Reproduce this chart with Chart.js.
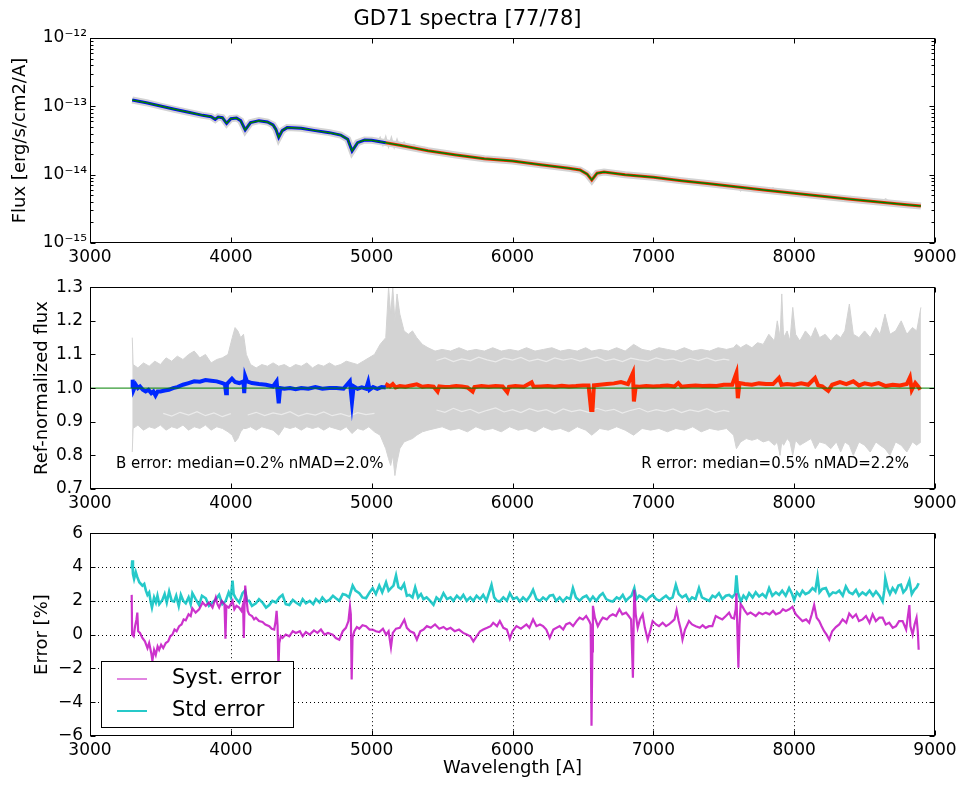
<!DOCTYPE html>
<html>
<head>
<meta charset="utf-8">
<title>GD71 spectra [77/78]</title>
<script src="https://cdn.jsdelivr.net/npm/chart.js@4.4.1/dist/chart.umd.min.js"></script>
<style>
  body { margin: 0; background: #fff; }
  canvas { position: absolute; left: 0; }
  #fluxChart { top: 0; }
  #ratioChart { top: 270px; }
  #errorChart { top: 516px; }
</style>
</head>
<body>
<canvas id="fluxChart" width="963" height="270"></canvas>
<canvas id="ratioChart" width="963" height="246"></canvas>
<canvas id="errorChart" width="963" height="269"></canvas>
<script>
// tick values / labels
const waveTicks = [3000, 4000, 5000, 6000, 7000, 8000, 9000];
const waveTickLabels = ['3000', '4000', '5000', '6000', '7000', '8000', '9000'];
const fluxTicks = [1e-15, 1e-14, 1e-13, 1e-12];
const fluxTickLabels = ['10⁻¹⁵', '10⁻¹⁴', '10⁻¹³', '10⁻¹²'];
const ratioTicks = [0.7, 0.8, 0.9, 1.0, 1.1, 1.2, 1.3];
const ratioTickLabels = ['0.7', '0.8', '0.9', '1.0', '1.1', '1.2', '1.3'];
const errTicks = [-6, -4, -2, 0, 2, 4, 6];
const errTickLabels = ['−6', '−4', '−2', '0', '2', '4', '6'];

// top panel: model spectrum (green), observed B/R split at 5100 A
const splitWave = 5100;
const modelWave = [3300, 3400, 3500, 3600, 3700, 3800, 3860, 3889, 3910, 3940,
  3970, 4000, 4040, 4070, 4102, 4140, 4200, 4260, 4300, 4320,
  4340, 4365, 4400, 4500, 4600, 4700, 4780, 4830, 4861, 4900,
  4950, 5000, 5100, 5200, 5400, 5600, 5800, 6000, 6200, 6400,
  6480, 6530, 6563, 6600, 6650, 6800, 7000, 7200, 7400, 7600,
  7800, 8000, 8200, 8400, 8600, 8800, 8900];
const modelFlux = [1.24e-13, 1.13e-13, 1.01e-13, 9.04e-14, 8.17e-14, 7.38e-14, 7.06e-14, 6.45e-14, 6.98e-14, 6.82e-14,
  5.64e-14, 6.6e-14, 6.75e-14, 6.17e-14, 4.51e-14, 5.77e-14, 6.17e-14, 5.9e-14, 5.33e-14, 4.61e-14,
  3.52e-14, 4.41e-14, 4.88e-14, 4.77e-14, 4.41e-14, 4.12e-14, 3.8e-14, 3.29e-14, 2.22e-14, 2.94e-14,
  3.21e-14, 3.18e-14, 2.94e-14, 2.69e-14, 2.24e-14, 1.94e-14, 1.71e-14, 1.58e-14, 1.4e-14, 1.24e-14,
  1.17e-14, 1.02e-14, 8.36e-15, 1.05e-14, 1.09e-14, 1.0e-14, 9.14e-15, 8.17e-15, 7.38e-15, 6.6e-15,
  5.9e-15, 5.33e-15, 4.82e-15, 4.36e-15, 3.98e-15, 3.64e-15, 3.48e-15];
const specNoiseWave = [5040, 5060, 5080, 5100, 5120, 5140, 5160, 5180, 5200, 5230,
  5260, 5300, 5340, 5380, 6000, 7600, 7620, 7650, 7700, 7750,
  7800, 7850, 7900, 7950, 8000, 8100, 8150, 8200, 8300, 8400,
  8450, 8500, 8600, 8650, 8700, 8800, 8850, 8900];
const specNoiseFlux = [3.05e-14, 3.5e-14, 2.7e-14, 3.6e-14, 2.55e-14, 3.5e-14, 2.5e-14, 3.3e-14, 2.5e-14, 3.0e-14,
  2.45e-14, 2.75e-14, 2.4e-14, 2.5e-14, null, 6.6e-15, 5.8e-15, 6.9e-15, 6.0e-15, 6.5e-15,
  5.5e-15, 6.4e-15, 5.3e-15, 5.9e-15, 5.0e-15, 5.5e-15, 4.7e-15, 5.2e-15, 4.4e-15, 4.8e-15,
  4.1e-15, 4.5e-15, 3.8e-15, 4.4e-15, 3.6e-15, 3.9e-15, 3.4e-15, 3.6e-15];

// middle panel: spread of all spectra (grey) and mean ratios
const bandWave = [3300, 3306, 3340, 3380, 3420, 3460, 3500, 3540, 3580, 3620,
  3660, 3700, 3740, 3780, 3820, 3860, 3900, 3940, 3980, 4010,
  4030, 4050, 4070, 4090, 4110, 4140, 4180, 4220, 4260, 4300,
  4340, 4380, 4420, 4460, 4500, 4540, 4580, 4620, 4660, 4700,
  4740, 4780, 4820, 4860, 4900, 4940, 4980, 5020, 5060, 5100,
  5120, 5135, 5150, 5165, 5180, 5200, 5230, 5260, 5290, 5320,
  5360, 5400, 5450, 5500, 5560, 5620, 5680, 5740, 5800, 5860,
  5920, 5980, 6040, 6100, 6160, 6220, 6280, 6340, 6400, 6460,
  6520, 6563, 6620, 6680, 6740, 6800, 6860, 6920, 6980, 7040,
  7100, 7160, 7220, 7280, 7340, 7400, 7460, 7520, 7570, 7590,
  7620, 7660, 7700, 7740, 7780, 7820, 7860, 7880, 7900, 7912,
  7925, 7950, 7970, 7990, 8010, 8040, 8080, 8120, 8150, 8180,
  8220, 8260, 8300, 8330, 8360, 8392, 8420, 8460, 8500, 8540,
  8580, 8610, 8645, 8680, 8720, 8760, 8800, 8840, 8870, 8900];
const bandHigh = [1.15, 1.07, 1.06, 1.075, 1.065, 1.08, 1.07, 1.09, 1.08, 1.095,
  1.085, 1.10, 1.11, 1.09, 1.10, 1.075, 1.085, 1.09, 1.10, 1.15,
  1.18, 1.17, 1.15, 1.16, 1.10, 1.07, 1.06, 1.07, 1.065, 1.075,
  1.065, 1.07, 1.06, 1.07, 1.065, 1.075, 1.06, 1.07, 1.065, 1.075,
  1.065, 1.07, 1.08, 1.075, 1.07, 1.08, 1.09, 1.10, 1.13, 1.15,
  1.30, 1.22, 1.30, 1.20, 1.28, 1.22, 1.17, 1.16, 1.17, 1.15,
  1.13, 1.12, 1.11, 1.115, 1.11, 1.12, 1.11, 1.115, 1.11, 1.12,
  1.11, 1.115, 1.11, 1.12, 1.11, 1.115, 1.12, 1.11, 1.115, 1.11,
  1.12, 1.11, 1.115, 1.11, 1.12, 1.11, 1.13, 1.115, 1.11, 1.12,
  1.115, 1.11, 1.12, 1.11, 1.115, 1.11, 1.12, 1.115, 1.12, 1.13,
  1.12, 1.13, 1.12, 1.135, 1.13, 1.16, 1.14, 1.20, 1.15, 1.28,
  1.15, 1.17, 1.14, 1.24, 1.16, 1.14, 1.17, 1.15, 1.18, 1.15,
  1.16, 1.14, 1.16, 1.15, 1.17, 1.25, 1.16, 1.15, 1.17, 1.15,
  1.18, 1.16, 1.22, 1.16, 1.17, 1.20, 1.16, 1.18, 1.17, 1.24];
const bandLow = [0.81, 0.88, 0.89, 0.875, 0.885, 0.88, 0.89, 0.875, 0.885, 0.88,
  0.89, 0.875, 0.885, 0.88, 0.89, 0.875, 0.885, 0.88, 0.87, 0.86,
  0.84, 0.85, 0.87, 0.88, 0.88, 0.885, 0.875, 0.885, 0.88, 0.875,
  0.86, 0.885, 0.88, 0.885, 0.875, 0.885, 0.88, 0.885, 0.875, 0.885,
  0.88, 0.875, 0.885, 0.865, 0.88, 0.875, 0.885, 0.87, 0.86, 0.82,
  0.79, 0.77, 0.80, 0.74, 0.78, 0.82, 0.84, 0.845, 0.85, 0.86,
  0.87, 0.875, 0.88, 0.885, 0.875, 0.88, 0.87, 0.885, 0.875, 0.88,
  0.87, 0.885, 0.875, 0.88, 0.87, 0.885, 0.875, 0.88, 0.87, 0.885,
  0.875, 0.86, 0.88, 0.875, 0.885, 0.875, 0.86, 0.88, 0.875, 0.88,
  0.87, 0.88, 0.875, 0.885, 0.87, 0.88, 0.875, 0.88, 0.86, 0.82,
  0.84, 0.85, 0.845, 0.85, 0.84, 0.845, 0.83, 0.84, 0.80, 0.84,
  0.83, 0.85, 0.84, 0.80, 0.845, 0.83, 0.84, 0.85, 0.82, 0.84,
  0.835, 0.82, 0.84, 0.81, 0.84, 0.83, 0.80, 0.84, 0.83, 0.81,
  0.84, 0.83, 0.82, 0.80, 0.84, 0.83, 0.81, 0.84, 0.83, 0.84];
// faint gaps between the individual grey spectra
const gapLowWave = [3520, 3580, 3640, 3700, 3760, 3820, 3880, 3940, 4000, 4060,
  4120, 4180, 4240, 4300, 4360, 4420, 4480, 4540, 4600, 4660,
  4720, 4780, 4840, 4900, 4960, 5020, 5080, 5460, 5520, 5580,
  5640, 5700, 5760, 5820, 5880, 5940, 6000, 6060, 6120, 6180,
  6240, 6300, 6360, 6420, 6480, 6540, 6600, 6660, 6720, 6780,
  6840, 6900, 6960, 7020, 7080, 7140, 7200, 7260, 7320, 7380,
  7440, 7500, 7540];
const gapLow = [0.925, 0.917, 0.928, 0.92, 0.93, 0.918, 0.926, 0.915, 0.924, null,
  0.92, 0.928, 0.918, 0.926, 0.921, 0.93, 0.917, 0.925, 0.92, 0.929,
  0.918, 0.924, 0.916, 0.927, 0.921, 0.925, null, 0.935, 0.928, 0.94,
  0.93, 0.937, 0.926, 0.934, 0.941, 0.929, 0.936, 0.927, 0.939, 0.931,
  0.936, 0.925, 0.938, 0.93, 0.935, 0.928, 0.94, 0.932, 0.937, 0.926,
  0.934, 0.94, 0.929, 0.936, 0.931, 0.938, 0.927, 0.935, 0.93, 0.939,
  0.928, 0.934, 0.93];
const gapHighWave = [5460, 5520, 5580, 5640, 5700, 5760, 5820, 5880, 5940, 6000,
  6060, 6120, 6180, 6240, 6300, 6360, 6420, 6480, 6540, 6600,
  6660, 6720, 6780, 6840, 6900, 6960, 7020, 7080, 7140, 7200,
  7260, 7320, 7380, 7440, 7500, 7540];
const gapHigh = [1.082, 1.09, 1.079, 1.087, 1.081, 1.092, 1.084, 1.078, 1.089, 1.083,
  1.091, 1.08, 1.086, 1.079, 1.09, 1.083, 1.088, 1.08, 1.086, 1.092,
  1.081, 1.087, 1.079, 1.089, 1.084, 1.08, 1.09, 1.083, 1.087, 1.079,
  1.088, 1.082, 1.09, 1.081, 1.086, 1.083];
const refWave = [3000, 9000];
const refLevel = [1.0, 1.0];
const ratioBWave = [3300, 3303, 3310, 3325, 3340, 3355, 3375, 3395, 3415, 3435,
  3450, 3465, 3480, 3500, 3530, 3560, 3590, 3620, 3660, 3700,
  3740, 3780, 3820, 3860, 3900, 3940, 3958, 3966, 3972, 3990,
  4008, 4030, 4060, 4090, 4095, 4102, 4115, 4150, 4200, 4250,
  4300, 4325, 4340, 4350, 4380, 4420, 4460, 4500, 4550, 4600,
  4650, 4700, 4750, 4800, 4845, 4860, 4872, 4900, 4930, 4960,
  4975, 4985, 5010, 5040, 5070, 5100];
const ratioB = [1.00, 1.025, 0.995, 1.01, 1.00, 1.005, 0.995, 0.99, 0.995, 0.985,
  0.99, 0.978, 0.99, 0.99, 0.993, 0.995, 1.00, 1.003, 1.01, 1.015,
  1.02, 1.019, 1.024, 1.022, 1.02, 1.015, 1.012, 0.985, 1.012, 1.02,
  1.028, 1.018, 1.015, 1.02, 0.985, 1.035, 1.02, 1.015, 1.012, 1.01,
  1.005, 1.02, 0.955, 1.00, 0.998, 1.00, 0.997, 1.00, 0.998, 1.003,
  0.998, 1.00, 1.00, 0.998, 1.02, 0.958, 1.005, 0.998, 1.002, 0.998,
  1.018, 0.995, 1.003, 0.998, 1.003, 1.002];
const ratioRWave = [5100, 5110, 5130, 5150, 5170, 5200, 5240, 5280, 5320, 5360,
  5400, 5440, 5468, 5480, 5520, 5560, 5600, 5640, 5680, 5717,
  5730, 5780, 5830, 5880, 5930, 5963, 5975, 6020, 6080, 6136,
  6150, 6200, 6250, 6300, 6350, 6400, 6450, 6500, 6540, 6558,
  6568, 6578, 6620, 6670, 6720, 6770, 6820, 6855, 6862, 6875,
  6900, 6950, 7000, 7050, 7100, 7150, 7177, 7200, 7250, 7300,
  7350, 7400, 7450, 7500, 7560, 7590, 7600, 7612, 7650, 7700,
  7750, 7800, 7850, 7892, 7910, 7950, 8000, 8050, 8100, 8148,
  8170, 8200, 8242, 8270, 8325, 8370, 8420, 8460, 8500, 8550,
  8600, 8650, 8700, 8750, 8800, 8822, 8835, 8860, 8880, 8895];
const ratioR = [1.002, 1.01, 1.005, 1.012, 1.002, 1.006, 1.004, 1.008, 1.011, 1.004,
  1.006, 1.004, 0.99, 1.005, 1.003, 1.004, 1.006, 1.005, 1.002, 0.99,
  1.003, 1.006, 1.004, 1.006, 1.005, 0.988, 1.004, 1.006, 1.004, 1.017,
  1.004, 1.005, 1.006, 1.004, 1.007, 1.005, 1.006, 1.008, 1.008, 0.935,
  0.935, 1.008, 1.01, 1.012, 1.014, 1.018, 1.012, 1.045, 0.96, 1.005,
  1.004, 1.006, 1.005, 1.006, 1.008, 1.005, 1.015, 1.004, 1.006, 1.008,
  1.006, 1.007, 1.006, 1.01, 1.01, 1.045, 0.97, 1.015, 1.012, 1.01,
  1.014, 1.012, 1.012, 1.03, 1.01, 1.012, 1.01, 1.014, 1.01, 1.03,
  1.008, 1.005, 0.992, 1.01, 1.018, 1.012, 1.02, 1.008, 1.014, 1.01,
  1.015, 1.006, 1.01, 1.008, 1.012, 1.032, 0.995, 1.015, 1.005, 0.995];

// bottom panel: errors in percent
const systWave = [3296, 3299, 3310, 3320, 3330, 3336, 3342, 3355, 3372, 3390,
  3408, 3420, 3435, 3443, 3455, 3467, 3480, 3491, 3505, 3520,
  3538, 3555, 3570, 3585, 3600, 3615, 3633, 3650, 3665, 3680,
  3700, 3715, 3727, 3750, 3775, 3800, 3822, 3845, 3870, 3893,
  3905, 3917, 3935, 3955, 3962, 3968, 3985, 4000, 4012, 4025,
  4040, 4059, 4075, 4087, 4092, 4097, 4102, 4110, 4120, 4130,
  4150, 4165, 4178, 4200, 4225, 4245, 4273, 4290, 4308, 4318,
  4325, 4332, 4338, 4344, 4355, 4367, 4390, 4415, 4440, 4462,
  4490, 4510, 4533, 4560, 4590, 4615, 4640, 4665, 4690, 4723,
  4745, 4770, 4795, 4817, 4835, 4846, 4852, 4858, 4864, 4877,
  4895, 4912, 4935, 4960, 4985, 5007, 5030, 5054, 5080, 5102,
  5120, 5137, 5150, 5173, 5200, 5232, 5250, 5274, 5300, 5321,
  5345, 5368, 5392, 5420, 5450, 5480, 5510, 5533, 5560, 5590,
  5620, 5650, 5675, 5700, 5722, 5745, 5770, 5792, 5820, 5845,
  5863, 5890, 5910, 5935, 5960, 5981, 6000, 6028, 6060, 6099,
  6120, 6146, 6170, 6195, 6217, 6240, 6264, 6290, 6335, 6360,
  6380, 6406, 6430, 6455, 6476, 6500, 6523, 6545, 6555, 6561,
  6567, 6571, 6585, 6606, 6625, 6641, 6670, 6690, 6712, 6735,
  6759, 6780, 6806, 6825, 6842, 6855, 6860, 6865, 6875, 6889,
  6905, 6924, 6940, 6960, 6980, 6995, 7020, 7040, 7066, 7090,
  7110, 7137, 7150, 7165, 7180, 7195, 7207, 7225, 7253, 7275,
  7301, 7330, 7350, 7372, 7395, 7419, 7443, 7465, 7490, 7515,
  7538, 7555, 7573, 7585, 7590, 7596, 7604, 7612, 7620, 7633,
  7650, 7668, 7690, 7710, 7727, 7750, 7775, 7799, 7825, 7850,
  7870, 7900, 7920, 7941, 7965, 7988, 8000, 8012, 8035, 8059,
  8085, 8107, 8125, 8142, 8160, 8178, 8195, 8213, 8230, 8249,
  8270, 8296, 8320, 8344, 8370, 8391, 8415, 8439, 8460, 8486,
  8510, 8535, 8557, 8580, 8605, 8628, 8650, 8675, 8700, 8723,
  8745, 8770, 8795, 8818, 8825, 8841, 8855, 8869, 8878, 8884];
const systErr = [2.35, 0.0, -0.1, 0.5, 0.9, 1.3, 0.2, 0.1, -0.2, -0.4,
  -0.8, -0.5, -1.1, -1.55, -0.9, -1.2, -0.7, -0.9, -0.6, -0.8,
  -0.5, -0.4, -0.1, 0.0, 0.3, 0.2, 0.5, 0.6, 0.9, 0.85,
  1.2, 1.1, 1.55, 1.3, 1.5, 1.9, 1.7, 1.9, 1.6, 2.2,
  1.8, 1.6, 2.0, 1.8, -0.25, 1.7, 1.6, 1.8, 2.0, 1.5,
  1.7, 1.6, 1.4, 1.8, -0.2, 1.6, 2.9, 2.2, 1.4, 1.2,
  1.1, 0.9, 1.0, 0.8, 0.75, 0.6, 0.5, 0.35, 0.3, 0.8,
  1.4, 0.5, -2.0, -0.5, -0.1, -0.2, 0.0, -0.1, 0.2, 0.1,
  0.2, -0.1, 0.15, 0.0, 0.25, 0.1, 0.3, 0.0, 0.1, 0.0,
  -0.2, -0.3, 0.2, 0.4, 0.8, 1.65, 1.2, -2.65, -0.2, 0.2,
  0.45, 0.35, 0.55, 0.5, 0.3, 0.3, 0.2, 0.15, 0.35, 0.0,
  0.2, -0.75, 0.1, 0.35, 0.4, 0.88, 0.4, 0.2, 0.1, -0.3,
  0.2, 0.3, 0.5, 0.4, 0.6, 0.35, 0.45, 0.3, 0.4, 0.2,
  0.3, 0.1, 0.0, -0.1, -0.4, -0.1, 0.2, 0.3, 0.4, 0.5,
  0.7, 0.5, 0.8, 0.4, 0.3, -0.25, 0.2, 0.5, 0.35, 0.6,
  0.4, 0.9, 0.5, 0.6, 0.5, 0.3, -0.2, 0.3, 0.5, 0.3,
  0.6, 0.7, 0.5, 0.8, 1.0, 0.9, 1.1, 0.8, 0.6, -5.4,
  -1.0, 1.7, 1.0, 0.5, 0.8, 1.0, 0.9, 1.1, 1.2, 1.1,
  1.5, 1.2, 1.3, 1.1, 0.9, -2.55, 0.5, 2.65, 1.2, 0.4,
  0.9, 1.2, 0.4, -0.3, 0.3, 0.8, 0.6, 0.5, 0.7, 0.5,
  0.6, 0.8, 0.9, 1.45, 0.8, 0.3, -0.3, 0.3, 0.8, 0.6,
  0.5, 0.4, 0.55, 0.4, 0.5, 0.5, 1.1, 1.0, 0.9, 1.1,
  1.3, 1.0, 0.95, 1.5, 2.45, 0.5, -1.96, 0.6, 1.8, 1.65,
  1.4, 1.2, 1.3, 1.2, 1.1, 1.3, 1.2, 1.3, 1.2, 1.4,
  1.2, 1.3, 1.5, 1.4, 1.5, 1.65, 1.4, 1.2, 1.0, 0.8,
  0.9, 0.7, 1.2, 1.75, 1.0, 0.8, 0.5, 0.2, 0.0, -0.3,
  0.2, 0.45, 0.6, 0.9, 0.7, 1.25, 1.0, 1.2, 0.8, 0.9,
  1.1, 0.7, 1.2, 0.8, 1.0, 1.0, 0.6, 0.7, 0.4, 0.5,
  0.8, 0.8, 0.3, 1.75, 0.5, 0.0, 0.6, 1.0, 0.2, -0.9];
const stdWave = [3296, 3300, 3305, 3313, 3325, 3336, 3350, 3372, 3385, 3397,
  3408, 3420, 3431, 3440, 3455, 3468, 3479, 3492, 3514, 3530,
  3545, 3562, 3580, 3597, 3612, 3630, 3645, 3662, 3680, 3700,
  3715, 3727, 3750, 3775, 3795, 3822, 3845, 3870, 3895, 3917,
  3940, 3964, 3985, 4000, 4012, 4020, 4035, 4060, 4083, 4100,
  4115, 4130, 4150, 4178, 4200, 4225, 4250, 4273, 4295, 4320,
  4345, 4367, 4390, 4415, 4440, 4462, 4490, 4510, 4533, 4560,
  4585, 4604, 4630, 4650, 4675, 4700, 4725, 4746, 4770, 4795,
  4817, 4840, 4865, 4885, 4912, 4935, 4960, 4985, 5007, 5030,
  5054, 5075, 5102, 5120, 5137, 5155, 5173, 5190, 5209, 5230,
  5250, 5268, 5290, 5309, 5330, 5350, 5368, 5390, 5415, 5439,
  5460, 5485, 5510, 5535, 5560, 5580, 5605, 5630, 5651, 5675,
  5700, 5722, 5745, 5770, 5792, 5815, 5851, 5870, 5890, 5910,
  5935, 5960, 5981, 6005, 6030, 6052, 6075, 6100, 6125, 6146,
  6170, 6195, 6217, 6240, 6264, 6288, 6310, 6335, 6359, 6385,
  6410, 6429, 6450, 6476, 6500, 6525, 6550, 6571, 6595, 6620,
  6641, 6665, 6690, 6712, 6740, 6760, 6783, 6805, 6830, 6845,
  6865, 6880, 6900, 6924, 6950, 6970, 6995, 7020, 7045, 7066,
  7090, 7115, 7137, 7160, 7180, 7205, 7231, 7253, 7275, 7300,
  7324, 7345, 7370, 7396, 7420, 7440, 7466, 7490, 7515, 7538,
  7560, 7580, 7590, 7600, 7621, 7640, 7660, 7680, 7705, 7727,
  7751, 7775, 7799, 7822, 7845, 7870, 7893, 7915, 7940, 7964,
  7985, 8000, 8020, 8040, 8059, 8080, 8105, 8130, 8150, 8166,
  8180, 8200, 8225, 8250, 8275, 8296, 8320, 8345, 8367, 8390,
  8415, 8439, 8460, 8485, 8510, 8535, 8560, 8581, 8605, 8628,
  8640, 8647, 8665, 8680, 8699, 8720, 8740, 8758, 8775, 8795,
  8818, 8835, 8853, 8870, 8884];
const stdErr = [3.9, 4.4, 3.6, 3.3, 3.7, 3.4, 3.1, 2.9, 3.0, 2.6,
  2.35, 2.5, 1.95, 1.6, 2.2, 1.9, 2.3, 1.8, 2.05, 2.4,
  1.9, 2.55, 2.0, 1.95, 2.3, 1.7, 2.35, 2.0, 1.85, 2.2,
  1.8, 2.45, 2.1, 1.75, 2.3, 2.15, 1.7, 1.9, 2.1, 2.35,
  1.8, 2.0, 2.5, 2.2, 3.2, 2.4, 2.15, 1.9, 2.45, 2.6,
  2.0, 2.0, 1.7, 1.85, 2.1, 1.9, 1.6, 1.75, 2.0, 1.9,
  2.2, 2.35, 1.8, 1.75, 2.05, 1.9, 1.75, 2.1, 1.85, 2.0,
  1.8, 2.1, 1.9, 2.2, 1.95, 2.05, 2.3, 2.15, 2.0, 2.4,
  2.35, 2.2, 2.9, 2.6, 2.45, 2.2, 2.15, 2.5, 2.75, 2.4,
  2.9, 2.5, 3.1, 2.6, 2.75, 2.9, 3.5, 2.8, 2.7, 3.0,
  2.3, 2.35, 2.2, 2.8, 2.2, 2.4, 2.1, 2.2, 2.0, 1.76,
  2.2, 2.0, 2.45, 2.1, 2.2, 2.0, 2.3, 2.1, 2.35, 2.0,
  2.2, 2.0, 2.3, 2.1, 2.35, 2.0, 2.95, 2.2, 2.0, 1.96,
  2.2, 2.0, 2.45, 2.1, 2.2, 1.96, 2.2, 2.0, 2.3, 2.65,
  2.1, 2.0, 2.2, 2.05, 2.3, 2.35, 2.0, 2.2, 1.96, 2.2,
  2.1, 2.75, 2.2, 2.0, 2.2, 2.3, 2.0, 2.25, 2.0, 2.3,
  2.45, 2.1, 2.0, 1.96, 2.2, 2.1, 2.35, 2.0, 2.2, 2.3,
  2.75, 2.1, 2.3, 2.2, 2.0, 2.2, 2.35, 2.1, 2.0, 2.15,
  2.3, 2.1, 2.2, 2.95, 2.4, 2.2, 2.35, 2.0, 2.2, 2.1,
  2.75, 2.2, 2.1, 2.0, 2.3, 2.2, 2.45, 2.1, 2.3, 2.35,
  2.2, 2.4, 3.5, 2.5, 1.96, 2.3, 2.1, 2.45, 2.2, 2.5,
  2.25, 2.4, 2.2, 2.75, 2.3, 2.5, 2.35, 2.6, 2.3, 2.75,
  2.4, 2.05, 2.5, 2.3, 2.6, 2.4, 2.5, 2.75, 2.6, 3.43,
  2.5, 2.7, 2.75, 2.3, 2.5, 2.45, 2.6, 2.3, 2.85, 2.5,
  2.4, 2.65, 2.3, 2.5, 2.35, 2.6, 2.3, 2.55, 2.3, 1.96,
  2.6, 3.33, 2.7, 2.4, 2.75, 2.5, 2.9, 2.95, 2.5, 2.7,
  3.2, 2.4, 2.65, 2.8, 3.04];

Chart.defaults.font.family = '"DejaVu Sans", "Liberation Sans", sans-serif';
Chart.defaults.color = '#000';

function pairs(xs, ys) {
    return xs.map((x, i) => ({ x: x, y: ys[i] }));
}

// minor ticks for the log axis (2..9 x 10^n)
const fluxMinorTicks = [];
[1e-15, 1e-14, 1e-13].forEach(d => {
    for (let m = 2; m < 10; m++) fluxMinorTicks.push(m * d);
});

// matplotlib-like frame: inward ticks on all sides, optional dotted grid, notes, legend
const axesBox = {
    id: 'axesBox',
    beforeDatasetsDraw(chart, args, opts) {
        if (!opts.dotted) return;
        const { ctx, chartArea: a, scales: { x, y } } = chart;
        ctx.save();
        ctx.strokeStyle = '#000';
        ctx.lineWidth = 1;
        ctx.setLineDash([1, 3]);
        ctx.beginPath();
        x.ticks.forEach(t => {
            const px = Math.round(x.getPixelForValue(t.value)) + 0.5;
            if (px > a.left + 2 && px < a.right - 2) { ctx.moveTo(px, a.top); ctx.lineTo(px, a.bottom); }
        });
        y.ticks.forEach(t => {
            const py = Math.round(y.getPixelForValue(t.value)) + 0.5;
            if (py > a.top + 2 && py < a.bottom - 2) { ctx.moveTo(a.left, py); ctx.lineTo(a.right, py); }
        });
        ctx.stroke();
        ctx.restore();
    },
    afterDatasetsDraw(chart, args, opts) {
        const { ctx, chartArea: a, scales: { x, y } } = chart;
        const L = Math.round(a.left) + 0.5, R = Math.round(a.right) - 0.5;
        const T = Math.round(a.top) + 0.5, B = Math.round(a.bottom) - 0.5;
        ctx.save();
        ctx.strokeStyle = '#000';
        ctx.lineWidth = 1;
        ctx.beginPath();
        x.ticks.forEach(t => {
            const px = Math.round(x.getPixelForValue(t.value)) + 0.5;
            ctx.moveTo(px, B); ctx.lineTo(px, B - 5);
            ctx.moveTo(px, T); ctx.lineTo(px, T + 5);
        });
        y.ticks.forEach(t => {
            const py = Math.round(y.getPixelForValue(t.value)) + 0.5;
            ctx.moveTo(L, py); ctx.lineTo(L + 5, py);
            ctx.moveTo(R, py); ctx.lineTo(R - 5, py);
        });
        (opts.minorY || []).forEach(v => {
            const py = Math.round(y.getPixelForValue(v)) + 0.5;
            ctx.moveTo(L, py); ctx.lineTo(L + 3, py);
            ctx.moveTo(R, py); ctx.lineTo(R - 3, py);
        });
        ctx.stroke();
        ctx.strokeRect(L, T, R - L, B - T);

        ctx.fillStyle = '#000';
        ctx.textBaseline = 'middle';
        ctx.font = '15px "DejaVu Sans"';
        (opts.notes || []).forEach(n => {
            ctx.textAlign = n.align;
            ctx.fillText(n.text, x.getPixelForValue(n.x), y.getPixelForValue(n.y));
        });

        if (opts.legend) {
            const lg = opts.legend;
            const x0 = Math.round(a.left) + lg.left, y0 = Math.round(a.top) + lg.top;
            ctx.fillStyle = '#fff';
            ctx.fillRect(x0, y0, lg.width, lg.height);
            ctx.strokeStyle = '#000';
            ctx.lineWidth = 1;
            ctx.strokeRect(x0 + 0.5, y0 + 0.5, lg.width, lg.height);
            ctx.font = '21px "DejaVu Sans"';
            ctx.textAlign = 'left';
            chart.data.datasets.forEach((ds, i) => {
                const yy = y0 + 18 + i * 32;
                ctx.strokeStyle = ds.borderColor;
                ctx.lineWidth = i === 0 ? 1.2 : 2;
                ctx.beginPath();
                ctx.moveTo(x0 + 16, yy);
                ctx.lineTo(x0 + 46, yy);
                ctx.stroke();
                ctx.fillStyle = '#000';
                ctx.fillText(ds.label, x0 + 71, yy);
            });
        }
        ctx.restore();
    }
};

function xAxis(height, title) {
    const axis = {
        type: 'linear',
        min: 3000,
        max: 9000,
        afterBuildTicks: s => { s.ticks = waveTicks.map(v => ({ value: v })); },
        afterFit: s => { s.height = height; },
        ticks: { callback: (v, i) => waveTickLabels[i], padding: 4, maxRotation: 0, autoSkip: false, font: { size: 17 } },
        grid: { display: false, drawTicks: false },
        border: { display: false }
    };
    if (title) {
        axis.title = { display: true, text: title, font: { size: 18 }, padding: { top: 0, bottom: 6 } };
    }
    return axis;
}

function yAxis(type, min, max, ticks, labels, title, titlePad, tickPad) {
    return {
        type: type,
        min: min,
        max: max,
        afterBuildTicks: s => { s.ticks = ticks.map(v => ({ value: v })); },
        afterFit: s => { s.width = 90; },
        ticks: { callback: (v, i) => labels[i], padding: tickPad, autoSkip: false, font: { size: 17 } },
        grid: { display: false, drawTicks: false },
        border: { display: false },
        title: { display: true, text: title, font: { size: 18 }, padding: { top: titlePad, bottom: 0 } }
    };
}

function lineSet(label, data, color, width, order, extra) {
    return Object.assign({
        label: label,
        data: data,
        borderColor: color,
        backgroundColor: color,
        borderWidth: width,
        pointRadius: 0,
        tension: 0,
        fill: false,
        order: order
    }, extra || {});
}

const modelPts = pairs(modelWave, modelFlux);

const ctxFlux = document.getElementById('fluxChart');
const fluxChart = new Chart(ctxFlux, {
    type: 'line',
    data: {
        datasets: [
            lineSet('Model', modelPts, '#008000', 1.5, 0),
            lineSet('B', modelPts.filter(p => p.x <= splitWave), '#0000ff', 3, 1),
            lineSet('R', modelPts.filter(p => p.x >= splitWave), '#ff2a00', 3, 1),
            lineSet('Spectra noise', pairs(specNoiseWave, specNoiseFlux), '#d3d3d3', 1.5, 2),
            lineSet('Spectra', modelPts, '#d3d3d3', 7, 3)
        ]
    },
    options: {
        responsive: false,
        animation: false,
        events: [],
        layout: { padding: { top: 0, right: 28, bottom: 0, left: 0 } },
        plugins: {
            legend: { display: false },
            tooltip: { enabled: false },
            title: {
                display: true,
                text: 'GD71 spectra [77/78]',
                color: '#000',
                font: { size: 21, weight: 'normal', lineHeight: '25px' },
                padding: { top: 7, bottom: 6 }
            },
            axesBox: { minorY: fluxMinorTicks }
        },
        scales: {
            x: xAxis(27),
            y: yAxis('logarithmic', 1e-15, 1e-12, fluxTicks, fluxTickLabels, 'Flux [erg/s/cm2/A]', 10, 3)
        }
    },
    plugins: [axesBox]
});

const ctxRatio = document.getElementById('ratioChart');
const ratioChart = new Chart(ctxRatio, {
    type: 'line',
    data: {
        datasets: [
            lineSet('Reference', pairs(refWave, refLevel), '#008000', 1, 0),
            lineSet('B ratio', pairs(ratioBWave, ratioB), '#0028ff', 4, 1),
            lineSet('R ratio', pairs(ratioRWave, ratioR), '#ff2a00', 4, 1),
            lineSet('Gap low', pairs(gapLowWave, gapLow), '#ebebeb', 1.2, 1.5),
            lineSet('Gap high', pairs(gapHighWave, gapHigh), '#ebebeb', 1.2, 1.5),
            lineSet('Spread high', pairs(bandWave, bandHigh), '#d3d3d3', 1, 2),
            lineSet('Spread low', pairs(bandWave, bandLow), '#d3d3d3', 1, 2, { fill: '-1', backgroundColor: '#d3d3d3' })
        ]
    },
    options: {
        responsive: false,
        animation: false,
        events: [],
        layout: { padding: { top: 15, right: 28, bottom: 0, left: 0 } },
        plugins: {
            legend: { display: false },
            tooltip: { enabled: false },
            axesBox: {
                notes: [
                    { text: 'B error: median=0.2% nMAD=2.0%', x: 3185, y: 0.774, align: 'left' },
                    { text: 'R error: median=0.5% nMAD=2.2%', x: 8815, y: 0.774, align: 'right' }
                ]
            }
        },
        scales: {
            x: xAxis(27),
            y: yAxis('linear', 0.7, 1.3, ratioTicks, ratioTickLabels, 'Ref-normalized flux', 32, 7)
        }
    },
    plugins: [axesBox]
});

const ctxErr = document.getElementById('errorChart');
const errorChart = new Chart(ctxErr, {
    type: 'line',
    data: {
        datasets: [
            lineSet('Syst. error', pairs(systWave, systErr), 'rgba(191, 0, 191, 0.8)', 2.2, 0),
            lineSet('Std error', pairs(stdWave, stdErr), 'rgba(0, 191, 191, 0.85)', 2.6, 1)
        ]
    },
    options: {
        responsive: false,
        animation: false,
        events: [],
        layout: { padding: { top: 15, right: 28, bottom: 0, left: 0 } },
        plugins: {
            legend: { display: false },
            tooltip: { enabled: false },
            axesBox: {
                dotted: true,
                legend: { left: 11, top: 128, width: 192, height: 66 }
            }
        },
        scales: {
            x: xAxis(49, 'Wavelength [A]'),
            y: yAxis('linear', -6, 6, errTicks, errTickLabels, 'Error [%]', 32, 7)
        }
    },
    plugins: [axesBox]
});
</script>
</body>
</html>
